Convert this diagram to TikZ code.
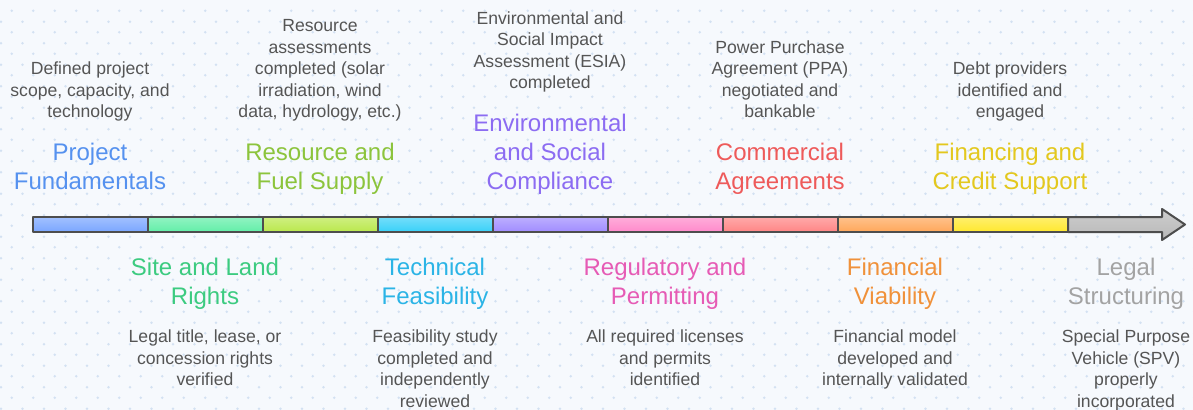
\documentclass[tikz,border=0pt]{standalone}
\usepackage{fontspec}
\setmainfont{Liberation Sans}
\usetikzlibrary{positioning}
\definecolor{paper}{HTML}{F6F9FD}
\definecolor{paperdot}{HTML}{D3E1F2}
\definecolor{notetext}{HTML}{555555}
\definecolor{barline}{HTML}{4D4D4D}
\definecolor{fundtxt}{HTML}{5591EF}  \definecolor{fundbar}{HTML}{7AA6FF}
\definecolor{sitetxt}{HTML}{3CCB80}  \definecolor{sitebar}{HTML}{62EEA8}
\definecolor{restxt}{HTML}{8CC43C}   \definecolor{resbar}{HTML}{BAE84C}
\definecolor{techtxt}{HTML}{2BB4E6}  \definecolor{techbar}{HTML}{38D0F8}
\definecolor{envtxt}{HTML}{8C6CF2}   \definecolor{envbar}{HTML}{A08CFF}
\definecolor{regtxt}{HTML}{E65BB5}   \definecolor{regbar}{HTML}{FF8ACB}
\definecolor{commtxt}{HTML}{EE5A5A}  \definecolor{commbar}{HTML}{FF8585}
\definecolor{finvtxt}{HTML}{F0913A}  \definecolor{finvbar}{HTML}{FFA75A}
\definecolor{fincstxt}{HTML}{E3C81E} \definecolor{fincsbar}{HTML}{FFE82E}
\definecolor{legaltxt}{HTML}{A3A3A3} \definecolor{legalbar}{HTML}{B8B8B8}
\tikzset{
  stagetitle/.style={align=center, inner sep=0pt, text depth=0pt, text=#1,
    font=\fontsize{18}{21.75}\selectfont},
  stagenote/.style={align=center, inner sep=0pt, text depth=0pt, text=notetext,
    font=\fontsize{13.2}{16.1}\selectfont},
  barpiece/.style={draw=barline, line width=1.5pt, top color=#1!70!white, bottom color=#1},
}
\begin{document}
\begin{tikzpicture}[x=0.75pt, y=-0.75pt, line join=round, node distance=18.75pt]
	\def\barleft{33}
	\def\barstep{115}
	\useasboundingbox (0,0) rectangle (1193,410);
	\fill[paper] (0,0) rectangle (1193,410);
	% dotted paper
	\begin{scope}
		\clip (0,0) rectangle (1193,410);
		\foreach \i in {0,...,55}
		\foreach \j in {0,...,19}{
			\fill[paperdot] ({1+21.5*\i}, {21.7+21.5*\j}) circle (1pt);
			\fill[paperdot] ({11.75+21.5*\i}, {10.7+21.5*\j}) circle (1pt);
		}
	\end{scope}
	% time line
	\draw[barpiece=legalbar] (1068, 217)--(1162, 217)--(1162, 209)--(1185, 224.5)
		--(1162, 240)--(1162, 232)--(1068, 232)--cycle;
	\foreach \c [count=\k from 0] in {fundbar, sitebar, resbar, techbar, envbar, regbar, commbar, finvbar, fincsbar}
		\draw[barpiece=\c] ({\barleft+\barstep*\k}, 217) rectangle ({\barleft+\barstep*(\k+1)}, 232);
	% stages above the line
	\node[stagetitle=fundtxt, anchor=south] (fund) at (90, 190) {Project\\Fundamentals};
	\node[stagetitle=restxt, anchor=south] (res) at (320, 190) {Resource and\\Fuel Supply};
	\node[stagetitle=envtxt, anchor=south] (env) at (550, 190) {Environmental\\and Social\\Compliance};
	\node[stagetitle=commtxt, anchor=south] (comm) at (780, 190) {Commercial\\Agreements};
	\node[stagetitle=fincstxt, anchor=south] (fincs) at (1010, 190) {Financing and\\Credit Support};
	\node[stagenote, above=of fund] (fund-note) {Defined project\\scope, capacity, and\\technology};
	\node[stagenote, above=of res] (res-note) {Resource\\assessments\\completed (solar\\irradiation, wind\\data, hydrology, etc.)};
	\node[stagenote, above=of env] (env-note) {Environmental and\\Social Impact\\Assessment (ESIA)\\completed};
	\node[stagenote, above=of comm] (comm-note) {Power Purchase\\Agreement (PPA)\\negotiated and\\bankable};
	\node[stagenote, above=of fincs] (fincs-note) {Debt providers\\identified and\\engaged};
	% stages below the line
	\node[stagetitle=sitetxt, anchor=north] (site) at (205, 258) {Site and Land\\Rights};
	\node[stagetitle=techtxt, anchor=north] (tech) at (435, 258) {Technical\\Feasibility};
	\node[stagetitle=regtxt, anchor=north] (reg) at (665, 258) {Regulatory and\\Permitting};
	\node[stagetitle=finvtxt, anchor=north] (finv) at (895, 258) {Financial\\Viability};
	\node[stagetitle=legaltxt, anchor=north] (legal) at (1126, 258) {Legal\\Structuring};
	\node[stagenote, below=of site] (site-note) {Legal title, lease, or\\concession rights\\verified};
	\node[stagenote, below=of tech] (tech-note) {Feasibility study\\completed and\\independently\\reviewed};
	\node[stagenote, below=of reg] (reg-note) {All required licenses\\and permits\\identified};
	\node[stagenote, below=of finv] (finv-note) {Financial model\\developed and\\internally validated};
	\node[stagenote, below=of legal] (legal-note) {Special Purpose\\Vehicle (SPV)\\properly\\incorporated};
\end{tikzpicture}
\end{document}
